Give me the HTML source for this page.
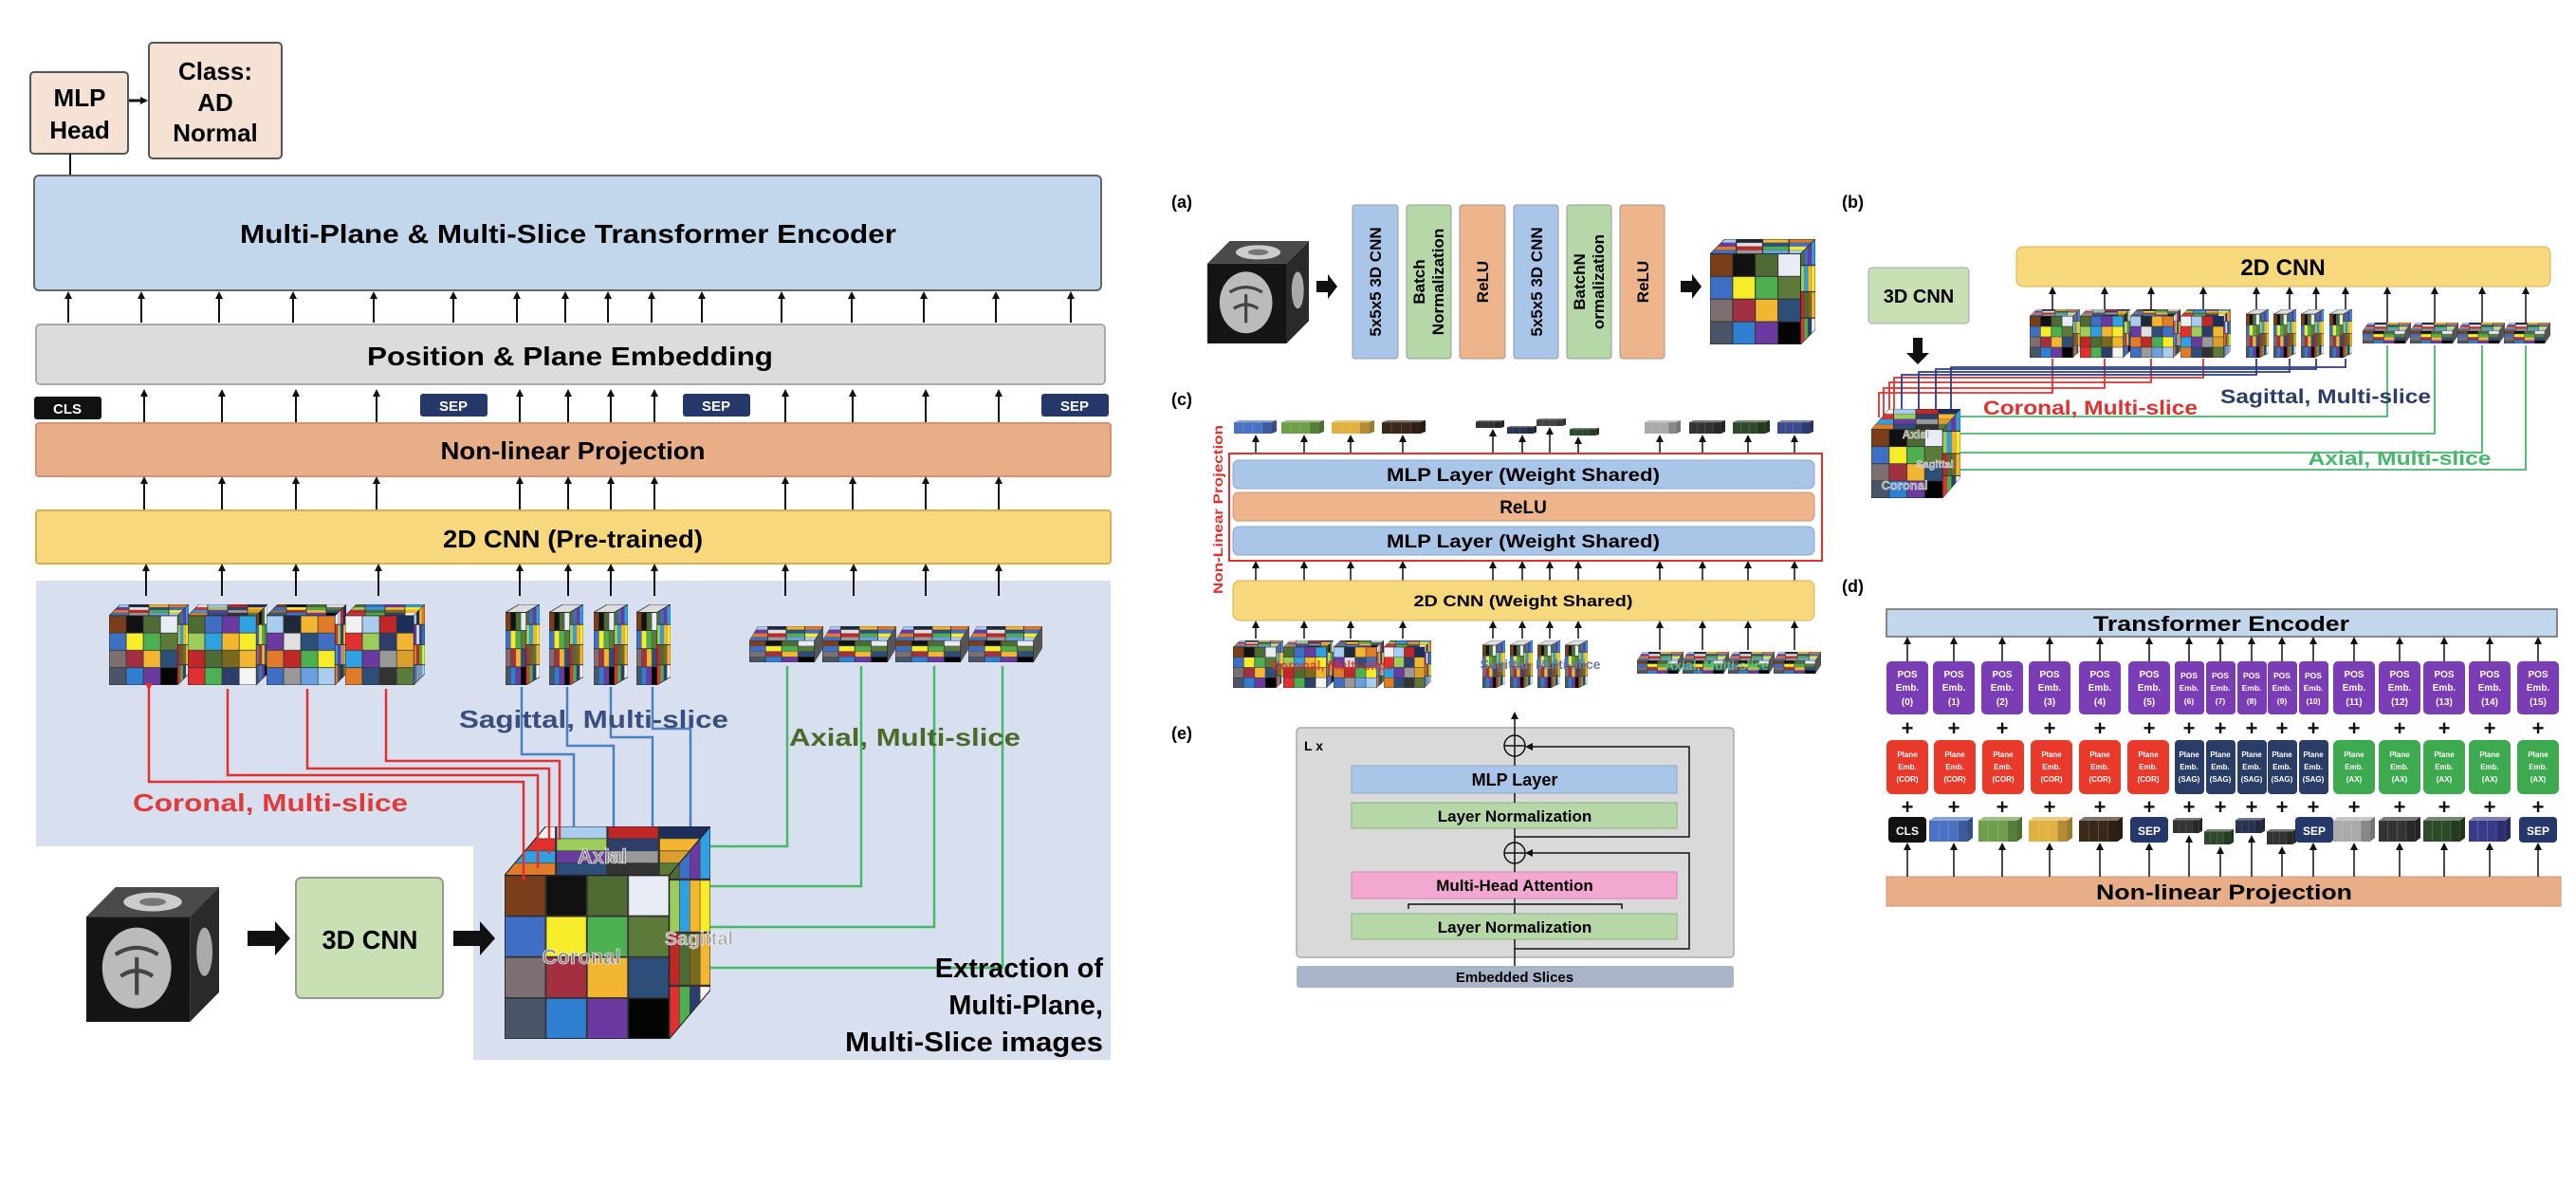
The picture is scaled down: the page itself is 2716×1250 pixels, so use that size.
<!DOCTYPE html>
<html><head><meta charset="utf-8"><style>html,body{margin:0;padding:0;background:#fff}svg{display:block}text{font-family:"Liberation Sans",Arial,sans-serif;font-weight:bold}</style></head><body>
<svg width="2716" height="1250" viewBox="0 0 2716 1250" xmlns="http://www.w3.org/2000/svg">
<defs>
<marker id="ah" markerWidth="8" markerHeight="8" refX="6" refY="4" orient="auto" markerUnits="userSpaceOnUse"><path d="M0,0 L8,4 L0,8 z" fill="#111"/></marker>
<marker id="ahg" markerWidth="8" markerHeight="8" refX="6" refY="4" orient="auto" markerUnits="userSpaceOnUse"><path d="M0,0 L8,4 L0,8 z" fill="#45b86a"/></marker>
<marker id="ahr" markerWidth="8" markerHeight="8" refX="6" refY="4" orient="auto" markerUnits="userSpaceOnUse"><path d="M0,0 L8,4 L0,8 z" fill="#e03030"/></marker>
<marker id="ahb" markerWidth="8" markerHeight="8" refX="6" refY="4" orient="auto" markerUnits="userSpaceOnUse"><path d="M0,0 L8,4 L0,8 z" fill="#2a3d80"/></marker>
<pattern id="g1" width="1" height="1" patternContentUnits="objectBoundingBox"><g stroke="#333" stroke-width=".01">
<rect x="0" y="0" width=".25" height=".25" fill="#7a3f1a"/><rect x=".25" y="0" width=".25" height=".25" fill="#111"/><rect x=".5" y="0" width=".25" height=".25" fill="#4e6b34"/><rect x=".75" y="0" width=".25" height=".25" fill="#e8ecf4"/>
<rect x="0" y=".25" width=".25" height=".25" fill="#3e6fc4"/><rect x=".25" y=".25" width=".25" height=".25" fill="#f6ec2a"/><rect x=".5" y=".25" width=".25" height=".25" fill="#4caf50"/><rect x=".75" y=".25" width=".25" height=".25" fill="#5c7a3a"/>
<rect x="0" y=".5" width=".25" height=".25" fill="#7b6f72"/><rect x=".25" y=".5" width=".25" height=".25" fill="#a33040"/><rect x=".5" y=".5" width=".25" height=".25" fill="#f2b630"/><rect x=".75" y=".5" width=".25" height=".25" fill="#2e4e7a"/>
<rect x="0" y=".75" width=".25" height=".25" fill="#4a5568"/><rect x=".25" y=".75" width=".25" height=".25" fill="#2f7fd0"/><rect x=".5" y=".75" width=".25" height=".25" fill="#6a3aa0"/><rect x=".75" y=".75" width=".25" height=".25" fill="#050505"/></g></pattern>
<pattern id="g2" width="1" height="1" patternContentUnits="objectBoundingBox"><g stroke="#333" stroke-width=".01">
<rect x="0" y="0" width=".25" height=".25" fill="#4e6b34"/><rect x=".25" y="0" width=".25" height=".25" fill="#3e6fc4"/><rect x=".5" y="0" width=".25" height=".25" fill="#6a3aa0"/><rect x=".75" y="0" width=".25" height=".25" fill="#2fa0e0"/>
<rect x="0" y=".25" width=".25" height=".25" fill="#9ccc5a"/><rect x=".25" y=".25" width=".25" height=".25" fill="#2fa0e0"/><rect x=".5" y=".25" width=".25" height=".25" fill="#f2b630"/><rect x=".75" y=".25" width=".25" height=".25" fill="#f6ec2a"/>
<rect x="0" y=".5" width=".25" height=".25" fill="#c02828"/><rect x=".25" y=".5" width=".25" height=".25" fill="#4e6b34"/><rect x=".5" y=".5" width=".25" height=".25" fill="#7a6a20"/><rect x=".75" y=".5" width=".25" height=".25" fill="#f2b630"/>
<rect x="0" y=".75" width=".25" height=".25" fill="#e03030"/><rect x=".25" y=".75" width=".25" height=".25" fill="#4caf50"/><rect x=".5" y=".75" width=".25" height=".25" fill="#2e3e6a"/><rect x=".75" y=".75" width=".25" height=".25" fill="#f4f4f4"/></g></pattern>
<pattern id="g3" width="1" height="1" patternContentUnits="objectBoundingBox"><g stroke="#333" stroke-width=".01">
<rect x="0" y="0" width=".25" height=".25" fill="#a9cdee"/><rect x=".25" y="0" width=".25" height=".25" fill="#1e2a3a"/><rect x=".5" y="0" width=".25" height=".25" fill="#f2b630"/><rect x=".75" y="0" width=".25" height=".25" fill="#e07b2a"/>
<rect x="0" y=".25" width=".25" height=".25" fill="#6a3aa0"/><rect x=".25" y=".25" width=".25" height=".25" fill="#e0e0e0"/><rect x=".5" y=".25" width=".25" height=".25" fill="#2e4e7a"/><rect x=".75" y=".25" width=".25" height=".25" fill="#3e6fc4"/>
<rect x="0" y=".5" width=".25" height=".25" fill="#e07b2a"/><rect x=".25" y=".5" width=".25" height=".25" fill="#c02828"/><rect x=".5" y=".5" width=".25" height=".25" fill="#4caf50"/><rect x=".75" y=".5" width=".25" height=".25" fill="#f6ec2a"/>
<rect x="0" y=".75" width=".25" height=".25" fill="#3e6fc4"/><rect x=".25" y=".75" width=".25" height=".25" fill="#999"/><rect x=".5" y=".75" width=".25" height=".25" fill="#6aa0e0"/><rect x=".75" y=".75" width=".25" height=".25" fill="#a9cdee"/></g></pattern>
<pattern id="g4" width="1" height="1" patternContentUnits="objectBoundingBox"><g stroke="#333" stroke-width=".01">
<rect x="0" y="0" width=".25" height=".25" fill="#f0f0f0"/><rect x=".25" y="0" width=".25" height=".25" fill="#a9cdee"/><rect x=".5" y="0" width=".25" height=".25" fill="#c02828"/><rect x=".75" y="0" width=".25" height=".25" fill="#1e2e5a"/>
<rect x="0" y=".25" width=".25" height=".25" fill="#e03030"/><rect x=".25" y=".25" width=".25" height=".25" fill="#9ccc5a"/><rect x=".5" y=".25" width=".25" height=".25" fill="#2e3e6a"/><rect x=".75" y=".25" width=".25" height=".25" fill="#f2b630"/>
<rect x="0" y=".5" width=".25" height=".25" fill="#2fa0e0"/><rect x=".25" y=".5" width=".25" height=".25" fill="#6a3aa0"/><rect x=".5" y=".5" width=".25" height=".25" fill="#999"/><rect x=".75" y=".5" width=".25" height=".25" fill="#d9a030"/>
<rect x="0" y=".75" width=".25" height=".25" fill="#e07b2a"/><rect x=".25" y=".75" width=".25" height=".25" fill="#2e4e7a"/><rect x=".5" y=".75" width=".25" height=".25" fill="#333"/><rect x=".75" y=".75" width=".25" height=".25" fill="#5c7a3a"/></g></pattern>
<symbol id="cA" viewBox="0 0 100 100" preserveAspectRatio="none"><polygon points="0,14 14,0 100,0 86,14" fill="url(#g3)" stroke="#222" stroke-width=".6"/><polygon points="86,14 100,0 100,86 86,100" fill="url(#g2)" stroke="#222" stroke-width=".6"/><rect x="0" y="14" width="86" height="86" fill="url(#g1)" stroke="#222" stroke-width=".6"/></symbol>
<symbol id="cB" viewBox="0 0 100 100" preserveAspectRatio="none"><polygon points="0,14 14,0 100,0 86,14" fill="url(#g4)" stroke="#222" stroke-width=".6"/><polygon points="86,14 100,0 100,86 86,100" fill="url(#g1)" stroke="#222" stroke-width=".6"/><rect x="0" y="14" width="86" height="86" fill="url(#g2)" stroke="#222" stroke-width=".6"/></symbol>
<symbol id="cC" viewBox="0 0 100 100" preserveAspectRatio="none"><polygon points="0,14 14,0 100,0 86,14" fill="url(#g1)" stroke="#222" stroke-width=".6"/><polygon points="86,14 100,0 100,86 86,100" fill="url(#g4)" stroke="#222" stroke-width=".6"/><rect x="0" y="14" width="86" height="86" fill="url(#g3)" stroke="#222" stroke-width=".6"/></symbol>
<symbol id="cD" viewBox="0 0 100 100" preserveAspectRatio="none"><polygon points="0,14 14,0 100,0 86,14" fill="url(#g2)" stroke="#222" stroke-width=".6"/><polygon points="86,14 100,0 100,86 86,100" fill="url(#g3)" stroke="#222" stroke-width=".6"/><rect x="0" y="14" width="86" height="86" fill="url(#g4)" stroke="#222" stroke-width=".6"/></symbol>
<symbol id="big" viewBox="0 0 100 100" preserveAspectRatio="none"><polygon points="0,23 20,0 100,0 80,23" fill="url(#g4)" stroke="#222" stroke-width=".5"/><polygon points="80,23 100,0 100,77 80,100" fill="url(#g2)" stroke="#222" stroke-width=".5"/><rect x="0" y="23" width="80" height="77" fill="url(#g1)" stroke="#222" stroke-width=".5"/></symbol>
<symbol id="sag" viewBox="0 0 100 100" preserveAspectRatio="none"><polygon points="0,10 40,0 100,0 60,10" fill="#ddd" stroke="#222" stroke-width="1"/><polygon points="60,10 100,0 100,90 60,100" fill="url(#g2)" stroke="#222" stroke-width="1"/><rect x="0" y="10" width="60" height="90" fill="url(#g1)" stroke="#222" stroke-width="1"/></symbol>
<symbol id="ax" viewBox="0 0 100 100" preserveAspectRatio="none"><polygon points="0,40 12,0 100,0 88,40" fill="url(#g3)" stroke="#222" stroke-width=".6"/><polygon points="88,40 100,0 100,60 88,100" fill="#555" stroke="#222" stroke-width=".6"/><rect x="0" y="40" width="88" height="60" fill="url(#g1)" stroke="#222" stroke-width=".6"/></symbol>
<symbol id="slab" viewBox="0 0 100 100" preserveAspectRatio="none"><rect x="0" y="15" width="88" height="85" fill="currentColor"/><polygon points="0,15 12,0 100,0 88,15" fill="currentColor"/><polygon points="0,15 12,0 100,0 88,15" fill="#fff" opacity=".35"/><polygon points="88,15 100,0 100,85 88,100" fill="currentColor"/><polygon points="88,15 100,0 100,85 88,100" fill="#000" opacity=".3"/><g stroke="#fff" stroke-width="1" opacity=".5"><line x1="22" y1="15" x2="22" y2="100"/><line x1="44" y1="15" x2="44" y2="100"/><line x1="66" y1="15" x2="66" y2="100"/></g><rect x="66" y="15" width="22" height="85" fill="#000" opacity=".2"/></symbol>
<symbol id="brain" viewBox="0 0 100 100" preserveAspectRatio="none"><polygon points="0,22 22,0 100,0 78,22" fill="#4a4a4a"/><ellipse cx="50" cy="11" rx="22" ry="7" fill="#ccc"/><ellipse cx="50" cy="11" rx="10" ry="3" fill="#777"/><rect x="0" y="22" width="78" height="78" fill="#151515"/><ellipse cx="38" cy="60" rx="26" ry="30" fill="#bbb"/><path d="M22,50 Q38,40 54,50 M26,66 Q38,58 50,66 M38,52 L38,80" stroke="#444" stroke-width="3" fill="none"/><polygon points="78,22 100,0 100,78 78,100" fill="#2a2a2a"/><ellipse cx="89" cy="48" rx="6" ry="18" fill="#aaa"/></symbol>
</defs>

<!-- LEFT PANEL -->
<polygon points="38,612 1171,612 1171,1117 499,1117 499,892 38,892" fill="#d8e0ef"/>
<rect x="32" y="76" width="103" height="86" rx="4" fill="#f6e2d5" stroke="#555" stroke-width="2"/>
<text x="84" y="112" font-size="26" text-anchor="middle">MLP</text><text x="84" y="146" font-size="26" text-anchor="middle">Head</text>
<rect x="157" y="45" width="140" height="122" rx="4" fill="#f6e2d5" stroke="#555" stroke-width="2"/>
<text x="227" y="84" font-size="26" text-anchor="middle">Class:</text><text x="227" y="117" font-size="26" text-anchor="middle">AD</text><text x="227" y="149" font-size="26" text-anchor="middle">Normal</text>
<line x1="136" y1="106" x2="154" y2="106" stroke="#111" stroke-width="3" marker-end="url(#ah)"/>
<line x1="74" y1="162" x2="74" y2="185" stroke="#111" stroke-width="2"/>
<rect x="36" y="185" width="1125" height="121" rx="5" fill="#c2d6ec" stroke="#666" stroke-width="2"/>
<text x="599" y="256" font-size="28" text-anchor="middle" textLength="692" lengthAdjust="spacingAndGlyphs">Multi-Plane &amp; Multi-Slice Transformer Encoder</text>
<g stroke="#111" stroke-width="2" marker-end="url(#ah)">
<line x1="72" y1="340" x2="72" y2="309"/><line x1="149" y1="340" x2="149" y2="309"/><line x1="231" y1="340" x2="231" y2="309"/><line x1="309" y1="340" x2="309" y2="309"/><line x1="394" y1="340" x2="394" y2="309"/><line x1="478" y1="340" x2="478" y2="309"/><line x1="545" y1="340" x2="545" y2="309"/><line x1="596" y1="340" x2="596" y2="309"/><line x1="641" y1="340" x2="641" y2="309"/><line x1="687" y1="340" x2="687" y2="309"/><line x1="740" y1="340" x2="740" y2="309"/><line x1="824" y1="340" x2="824" y2="309"/><line x1="898" y1="340" x2="898" y2="309"/><line x1="974" y1="340" x2="974" y2="309"/><line x1="1050" y1="340" x2="1050" y2="309"/><line x1="1129" y1="340" x2="1129" y2="309"/>
</g>
<rect x="38" y="342" width="1127" height="63" rx="4" fill="#dcdcdc" stroke="#aaa" stroke-width="2"/>
<text x="601" y="385" font-size="28" text-anchor="middle" textLength="428" lengthAdjust="spacingAndGlyphs">Position &amp; Plane Embedding</text>
<g stroke="#111" stroke-width="2" marker-end="url(#ah)">
<line x1="152" y1="446" x2="152" y2="412"/><line x1="234" y1="446" x2="234" y2="412"/><line x1="312" y1="446" x2="312" y2="412"/><line x1="397" y1="446" x2="397" y2="412"/><line x1="548" y1="446" x2="548" y2="412"/><line x1="599" y1="446" x2="599" y2="412"/><line x1="644" y1="446" x2="644" y2="412"/><line x1="690" y1="446" x2="690" y2="412"/><line x1="828" y1="446" x2="828" y2="412"/><line x1="899" y1="446" x2="899" y2="412"/><line x1="976" y1="446" x2="976" y2="412"/><line x1="1053" y1="446" x2="1053" y2="412"/>
</g>
<rect x="36" y="418" width="71" height="24" rx="3" fill="#111"/><text x="71" y="436" font-size="15" fill="#fff" text-anchor="middle">CLS</text>
<rect x="443" y="415" width="71" height="24" rx="3" fill="#26386a"/><text x="478" y="433" font-size="15" fill="#fff" text-anchor="middle">SEP</text>
<rect x="720" y="415" width="71" height="24" rx="3" fill="#26386a"/><text x="755" y="433" font-size="15" fill="#fff" text-anchor="middle">SEP</text>
<rect x="1098" y="415" width="71" height="24" rx="3" fill="#26386a"/><text x="1133" y="433" font-size="15" fill="#fff" text-anchor="middle">SEP</text>
<rect x="38" y="446" width="1133" height="56" rx="3" fill="#e8ae88" stroke="#d89070" stroke-width="2"/>
<text x="604" y="484" font-size="26" text-anchor="middle" textLength="279" lengthAdjust="spacingAndGlyphs">Non-linear Projection</text>
<g stroke="#111" stroke-width="2" marker-end="url(#ah)">
<line x1="152" y1="538" x2="152" y2="504"/><line x1="234" y1="538" x2="234" y2="504"/><line x1="312" y1="538" x2="312" y2="504"/><line x1="397" y1="538" x2="397" y2="504"/><line x1="548" y1="538" x2="548" y2="504"/><line x1="599" y1="538" x2="599" y2="504"/><line x1="644" y1="538" x2="644" y2="504"/><line x1="690" y1="538" x2="690" y2="504"/><line x1="828" y1="538" x2="828" y2="504"/><line x1="899" y1="538" x2="899" y2="504"/><line x1="976" y1="538" x2="976" y2="504"/><line x1="1053" y1="538" x2="1053" y2="504"/>
</g>
<rect x="38" y="538" width="1133" height="56" rx="3" fill="#f7d87c" stroke="#d8b050" stroke-width="2"/>
<text x="604" y="577" font-size="26" text-anchor="middle" textLength="274" lengthAdjust="spacingAndGlyphs">2D CNN (Pre-trained)</text>
<g stroke="#111" stroke-width="2" marker-end="url(#ah)">
<line x1="154" y1="628" x2="154" y2="596"/><line x1="234" y1="628" x2="234" y2="596"/><line x1="312" y1="628" x2="312" y2="596"/><line x1="399" y1="628" x2="399" y2="596"/><line x1="548" y1="628" x2="548" y2="596"/><line x1="599" y1="628" x2="599" y2="596"/><line x1="644" y1="628" x2="644" y2="596"/><line x1="690" y1="628" x2="690" y2="596"/><line x1="828" y1="628" x2="828" y2="596"/><line x1="900" y1="628" x2="900" y2="596"/><line x1="976" y1="628" x2="976" y2="596"/><line x1="1053" y1="628" x2="1053" y2="596"/>
</g>
<use href="#cA" x="115" y="637" width="84" height="85"/><use href="#cB" x="198" y="637" width="84" height="85"/><use href="#cC" x="281" y="637" width="84" height="85"/><use href="#cD" x="364" y="637" width="84" height="85"/>
<use href="#sag" x="533" y="637" width="36" height="85"/><use href="#sag" x="579" y="637" width="36" height="85"/><use href="#sag" x="626" y="637" width="36" height="85"/><use href="#sag" x="671" y="637" width="36" height="85"/>
<use href="#ax" x="790" y="660" width="78" height="38"/><use href="#ax" x="867" y="660" width="78" height="38"/><use href="#ax" x="944" y="660" width="78" height="38"/><use href="#ax" x="1021" y="660" width="78" height="38"/>
<use href="#big" x="532" y="871" width="217" height="224"/>
<g fill="none" stroke="#e03030" stroke-width="2.5">
<path d="M157,726 V824 H552 V928" marker-start="url(#ahr)"/><path d="M240,726 V817 H567 V915"/><path d="M324,726 V810 H579 V900"/><path d="M407,726 V802 H590 V885"/>
</g>
<g fill="none" stroke="#4a80c0" stroke-width="2.5">
<path d="M550,724 V795 H605 V871"/><path d="M598,724 V786 H647 V871"/><path d="M644,724 V777 H688 V871"/><path d="M688,724 V768 H728 V871"/>
</g>
<g fill="none" stroke="#45b86a" stroke-width="2.5">
<path d="M749,892 H830 V702"/><path d="M749,934 H908 V702"/><path d="M749,977 H985 V702"/><path d="M749,1020 H1057 V702"/>
</g>
<text x="635" y="910" font-size="22" fill="#888" stroke="#fff" stroke-width=".6" text-anchor="middle">Axial</text>
<text x="613" y="1016" font-size="22" fill="#888" stroke="#fff" stroke-width=".6" text-anchor="middle">Coronal</text>
<text x="737" y="996" font-size="20" fill="#aaa" stroke="#fff" stroke-width=".5" text-anchor="middle">Sagittal</text>
<text x="626" y="767" font-size="26" fill="#3a4e7c" text-anchor="middle" textLength="284" lengthAdjust="spacingAndGlyphs">Sagittal, Multi-slice</text>
<text x="954" y="786" font-size="26" fill="#4a6a2a" text-anchor="middle" textLength="244" lengthAdjust="spacingAndGlyphs">Axial, Multi-slice</text>
<text x="285" y="855" font-size="26" fill="#e03a3a" text-anchor="middle" textLength="290" lengthAdjust="spacingAndGlyphs">Coronal, Multi-slice</text>
<use href="#brain" x="91" y="935" width="140" height="142"/>
<polygon points="261,981 290,981 290,971 306,989 290,1007 290,997 261,997" fill="#111"/>
<rect x="312" y="925" width="155" height="127" rx="6" fill="#c9dfb4" stroke="#999" stroke-width="2"/>
<text x="390" y="1000" font-size="28" text-anchor="middle" textLength="101" lengthAdjust="spacingAndGlyphs">3D CNN</text>
<polygon points="478,981 506,981 506,971 522,989 506,1007 506,997 478,997" fill="#111"/>
<text x="1163" y="1030" font-size="29" text-anchor="end">Extraction of</text>
<text x="1163" y="1069" font-size="29" text-anchor="end">Multi-Plane,</text>
<text x="1163" y="1108" font-size="29" text-anchor="end" textLength="272" lengthAdjust="spacingAndGlyphs">Multi-Slice images</text>

<!-- (a) -->
<text x="1235" y="219" font-size="18">(a)</text>
<use href="#brain" x="1273" y="254" width="107" height="108"/>
<polygon points="1388,296 1400,296 1400,289 1410,302 1400,315 1400,308 1388,308" fill="#111"/>
<g stroke="#999" stroke-width="1">
<rect x="1426" y="216" width="48" height="162" rx="3" fill="#a9c6e8"/><rect x="1483" y="216" width="47" height="162" rx="3" fill="#b6d7a8"/><rect x="1539" y="216" width="48" height="162" rx="3" fill="#eeb48c"/>
<rect x="1596" y="216" width="47" height="162" rx="3" fill="#a9c6e8"/><rect x="1652" y="216" width="47" height="162" rx="3" fill="#b6d7a8"/><rect x="1708" y="216" width="47" height="162" rx="3" fill="#eeb48c"/></g>
<g font-size="17">
<text transform="translate(1456,297) rotate(-90)" text-anchor="middle">5x5x5 3D CNN</text>
<text transform="translate(1502,297) rotate(-90)" text-anchor="middle">Batch</text><text transform="translate(1522,297) rotate(-90)" text-anchor="middle">Normalization</text>
<text transform="translate(1569,297) rotate(-90)" text-anchor="middle">ReLU</text>
<text transform="translate(1626,297) rotate(-90)" text-anchor="middle">5x5x5 3D CNN</text>
<text transform="translate(1671,297) rotate(-90)" text-anchor="middle">BatchN</text><text transform="translate(1691,297) rotate(-90)" text-anchor="middle">ormalization</text>
<text transform="translate(1738,297) rotate(-90)" text-anchor="middle">ReLU</text></g>
<polygon points="1772,296 1784,296 1784,289 1794,302 1784,315 1784,308 1772,308" fill="#111"/>
<use href="#cA" x="1803" y="252" width="111" height="111"/>

<!-- (c) -->
<text x="1235" y="427" font-size="18">(c)</text>
<use href="#slab" x="1301" y="443" width="45" height="14" style="color:#4a72c4"/><use href="#slab" x="1351" y="443" width="45" height="14" style="color:#6f9e4a"/><use href="#slab" x="1404" y="443" width="45" height="14" style="color:#e0b040"/><use href="#slab" x="1457" y="443" width="46" height="14" style="color:#3a2818"/>
<use href="#slab" x="1556" y="443" width="30" height="8" style="color:#333"/><use href="#slab" x="1589" y="449" width="31" height="8" style="color:#2a3350"/><use href="#slab" x="1620" y="441" width="31" height="8" style="color:#444"/><use href="#slab" x="1655" y="451" width="31" height="8" style="color:#2e4a2e"/>
<use href="#slab" x="1734" y="443" width="38" height="14" style="color:#aaa"/><use href="#slab" x="1781" y="443" width="38" height="14" style="color:#333"/><use href="#slab" x="1827" y="443" width="39" height="14" style="color:#2e4a2a"/><use href="#slab" x="1874" y="443" width="38" height="14" style="color:#3a4a8a"/>
<g stroke="#111" stroke-width="1.5" marker-end="url(#ah)">
<line x1="1324" y1="478" x2="1324" y2="460"/><line x1="1375" y1="478" x2="1375" y2="460"/><line x1="1424" y1="478" x2="1424" y2="460"/><line x1="1479" y1="478" x2="1479" y2="460"/><line x1="1574" y1="478" x2="1574" y2="454"/><line x1="1605" y1="478" x2="1605" y2="460"/><line x1="1634" y1="478" x2="1634" y2="452"/><line x1="1664" y1="478" x2="1664" y2="462"/><line x1="1750" y1="478" x2="1750" y2="460"/><line x1="1795" y1="478" x2="1795" y2="460"/><line x1="1843" y1="478" x2="1843" y2="460"/><line x1="1892" y1="478" x2="1892" y2="460"/>
<line x1="1324" y1="612" x2="1324" y2="593"/><line x1="1375" y1="612" x2="1375" y2="593"/><line x1="1424" y1="612" x2="1424" y2="593"/><line x1="1479" y1="612" x2="1479" y2="593"/><line x1="1574" y1="612" x2="1574" y2="593"/><line x1="1605" y1="612" x2="1605" y2="593"/><line x1="1634" y1="612" x2="1634" y2="593"/><line x1="1664" y1="612" x2="1664" y2="593"/><line x1="1750" y1="612" x2="1750" y2="593"/><line x1="1795" y1="612" x2="1795" y2="593"/><line x1="1843" y1="612" x2="1843" y2="593"/><line x1="1892" y1="612" x2="1892" y2="593"/>
<line x1="1324" y1="673" x2="1324" y2="656"/><line x1="1375" y1="673" x2="1375" y2="656"/><line x1="1424" y1="673" x2="1424" y2="656"/><line x1="1479" y1="673" x2="1479" y2="656"/><line x1="1574" y1="673" x2="1574" y2="656"/><line x1="1605" y1="673" x2="1605" y2="656"/><line x1="1634" y1="673" x2="1634" y2="656"/><line x1="1664" y1="673" x2="1664" y2="656"/><line x1="1750" y1="685" x2="1750" y2="656"/><line x1="1795" y1="685" x2="1795" y2="656"/><line x1="1843" y1="685" x2="1843" y2="656"/><line x1="1892" y1="685" x2="1892" y2="656"/>
</g>
<rect x="1296" y="478" width="625" height="113" fill="none" stroke="#e03030" stroke-width="2"/>
<rect x="1300" y="485" width="613" height="30" rx="6" fill="#a9c6e8" stroke="#8aa8cc"/>
<rect x="1300" y="519" width="613" height="30" rx="6" fill="#eeb48c" stroke="#d09070"/>
<rect x="1300" y="555" width="613" height="30" rx="6" fill="#a9c6e8" stroke="#8aa8cc"/>
<text x="1606" y="507" font-size="19" text-anchor="middle" textLength="288" lengthAdjust="spacingAndGlyphs">MLP Layer (Weight Shared)</text>
<text x="1606" y="541" font-size="19" text-anchor="middle">ReLU</text>
<text x="1606" y="577" font-size="19" text-anchor="middle" textLength="288" lengthAdjust="spacingAndGlyphs">MLP Layer (Weight Shared)</text>
<text transform="translate(1289,537) rotate(-90)" font-size="14" fill="#e03030" text-anchor="middle" textLength="178" lengthAdjust="spacingAndGlyphs">Non-Linear Projection</text>
<rect x="1300" y="612" width="613" height="42" rx="7" fill="#f7d87c" stroke="#d8b050"/>
<text x="1606" y="639" font-size="17" text-anchor="middle" textLength="231" lengthAdjust="spacingAndGlyphs">2D CNN (Weight Shared)</text>
<use href="#cA" x="1300" y="675" width="53" height="50"/><use href="#cB" x="1353" y="675" width="53" height="50"/><use href="#cC" x="1406" y="675" width="53" height="50"/><use href="#cD" x="1459" y="675" width="50" height="50"/>
<use href="#sag" x="1563" y="675" width="24" height="50"/><use href="#sag" x="1592" y="675" width="24" height="50"/><use href="#sag" x="1621" y="675" width="24" height="50"/><use href="#sag" x="1650" y="675" width="24" height="50"/>
<use href="#ax" x="1726" y="687" width="49" height="23"/><use href="#ax" x="1774" y="687" width="49" height="23"/><use href="#ax" x="1822" y="687" width="49" height="23"/><use href="#ax" x="1870" y="687" width="50" height="23"/>
<text x="1404" y="706" font-size="14" fill="#e03030" text-anchor="middle" opacity=".85">Coronal, Multi-slice</text>
<text x="1624" y="705" font-size="14" fill="#6a78a8" text-anchor="middle">Sagittal, Multi-slice</text>
<text x="1810" y="706" font-size="14" fill="#5ad08a" text-anchor="middle" opacity=".85">Axial, Multi-slice</text>

<!-- (e) -->
<text x="1235" y="779" font-size="18">(e)</text>
<rect x="1367" y="767" width="461" height="242" rx="4" fill="#d9d9d9" stroke="#aaa" stroke-width="1.5"/>
<text x="1375" y="791" font-size="14">L x</text>
<rect x="1425" y="807" width="343" height="29" fill="#a9c6e8" stroke="#8aa8cc"/><text x="1597" y="828" font-size="18" text-anchor="middle">MLP Layer</text>
<rect x="1425" y="846" width="343" height="27" fill="#b6d7a8" stroke="#90b080"/><text x="1597" y="866" font-size="17" text-anchor="middle">Layer Normalization</text>
<rect x="1425" y="919" width="343" height="28" fill="#f2a8d0" stroke="#d088b0"/><text x="1597" y="939" font-size="17" text-anchor="middle">Multi-Head Attention</text>
<rect x="1425" y="963" width="343" height="27" fill="#b6d7a8" stroke="#90b080"/><text x="1597" y="983" font-size="17" text-anchor="middle">Layer Normalization</text>
<rect x="1367" y="1018" width="461" height="23" rx="3" fill="#aab4c8"/><text x="1597" y="1035" font-size="15" text-anchor="middle">Embedded Slices</text>
<g fill="none" stroke="#111" stroke-width="1.5">
<line x1="1597" y1="1018" x2="1597" y2="990"/><line x1="1597" y1="963" x2="1597" y2="947"/><line x1="1597" y1="919" x2="1597" y2="910"/><line x1="1597" y1="888" x2="1597" y2="873"/><line x1="1597" y1="846" x2="1597" y2="836"/><line x1="1597" y1="807" x2="1597" y2="797"/>
<line x1="1597" y1="775" x2="1597" y2="752" marker-end="url(#ah)"/>
<path d="M1485,958 V953 H1710 V958"/>
<circle cx="1597" cy="899" r="11"/><line x1="1586" y1="899" x2="1608" y2="899"/><line x1="1597" y1="888" x2="1597" y2="910"/>
<circle cx="1597" cy="786" r="11"/><line x1="1586" y1="786" x2="1608" y2="786"/><line x1="1597" y1="775" x2="1597" y2="797"/>
<path d="M1597,1000 H1781 V899 H1610" marker-end="url(#ah)"/><path d="M1597,882 H1781 V787 H1610" marker-end="url(#ah)"/>
</g>

<!-- (b) -->
<text x="1942" y="219" font-size="18">(b)</text>
<rect x="2126" y="260" width="563" height="42" rx="7" fill="#f7d87c" stroke="#d8b050"/>
<text x="2407" y="290" font-size="24" text-anchor="middle">2D CNN</text>
<rect x="1970" y="282" width="106" height="59" rx="4" fill="#c9dfb4" stroke="#9ab"/>
<text x="2023" y="319" font-size="20" text-anchor="middle">3D CNN</text>
<polygon points="2017,356 2027,356 2027,372 2034,372 2022,384 2010,372 2017,372" fill="#111"/>
<g stroke="#111" stroke-width="1.5" marker-end="url(#ah)">
<line x1="2164" y1="326" x2="2164" y2="304"/><line x1="2219" y1="326" x2="2219" y2="304"/><line x1="2268" y1="326" x2="2268" y2="304"/><line x1="2323" y1="326" x2="2323" y2="304"/>
<line x1="2379" y1="326" x2="2379" y2="304"/><line x1="2414" y1="326" x2="2414" y2="304"/><line x1="2442" y1="326" x2="2442" y2="304"/><line x1="2473" y1="326" x2="2473" y2="304"/>
<line x1="2517" y1="340" x2="2517" y2="304"/><line x1="2567" y1="340" x2="2567" y2="304"/><line x1="2617" y1="340" x2="2617" y2="304"/><line x1="2663" y1="340" x2="2663" y2="304"/>
</g>
<use href="#cA" x="2140" y="326" width="53" height="51"/><use href="#cB" x="2193" y="326" width="53" height="51"/><use href="#cC" x="2246" y="326" width="53" height="51"/><use href="#cD" x="2299" y="326" width="53" height="51"/>
<use href="#sag" x="2368" y="326" width="24" height="51"/><use href="#sag" x="2397" y="326" width="24" height="51"/><use href="#sag" x="2426" y="326" width="24" height="51"/><use href="#sag" x="2456" y="326" width="24" height="51"/>
<use href="#ax" x="2491" y="340" width="51" height="22"/><use href="#ax" x="2541" y="340" width="51" height="22"/><use href="#ax" x="2591" y="340" width="50" height="22"/><use href="#ax" x="2640" y="340" width="49" height="22"/>
<g fill="none" stroke="#e03030" stroke-width="1.8">
<path d="M1981,440 V414 H2164 V378"/><path d="M1986,440 V409 H2219 V378"/><path d="M1992,440 V403 H2268 V378"/><path d="M1997,440 V398 H2323 V378"/>
</g>
<g fill="none" stroke="#2a3d80" stroke-width="1.8">
<path d="M2005,440 V395 H2379 V378"/><path d="M2023,440 V392 H2414 V378"/><path d="M2041,440 V389 H2442 V378"/><path d="M2057,440 V387 H2473 V378"/>
</g>
<g fill="none" stroke="#45b86a" stroke-width="1.8">
<path d="M2067,439 H2517 V364"/><path d="M2067,457 H2567 V364"/><path d="M2067,477 H2617 V364"/><path d="M2067,495 H2663 V364"/>
</g>
<use href="#big" x="1973" y="431" width="94" height="94"/>
<text x="2020" y="462" font-size="12" fill="#999" stroke="#fff" stroke-width=".4" text-anchor="middle">Axial</text>
<text x="2040" y="493" font-size="11" fill="#999" stroke="#fff" stroke-width=".4" text-anchor="middle">Sagittal</text>
<text x="2008" y="516" font-size="13" fill="#999" stroke="#fff" stroke-width=".4" text-anchor="middle">Coronal</text>
<text x="2204" y="437" font-size="21" fill="#e03030" text-anchor="middle" textLength="226" lengthAdjust="spacingAndGlyphs">Coronal, Multi-slice</text>
<text x="2452" y="425" font-size="21" fill="#2a3d6a" text-anchor="middle" textLength="222" lengthAdjust="spacingAndGlyphs">Sagittal, Multi-slice</text>
<text x="2530" y="490" font-size="20" fill="#45b86a" text-anchor="middle" textLength="193" lengthAdjust="spacingAndGlyphs">Axial, Multi-slice</text>

<!-- (d) -->
<text x="1942" y="624" font-size="18">(d)</text>
<rect x="1989" y="642" width="707" height="29" fill="#c2d6ec" stroke="#666" stroke-width="1.5"/>
<text x="2342" y="665" font-size="22" text-anchor="middle" textLength="270" lengthAdjust="spacingAndGlyphs">Transformer Encoder</text>
<rect x="1989" y="924" width="711" height="31" fill="#e8ae88" stroke="#d89070"/>
<text x="2345" y="948" font-size="22" text-anchor="middle" textLength="270" lengthAdjust="spacingAndGlyphs">Non-linear Projection</text>
<g stroke="#111" stroke-width="1.5" marker-end="url(#ah)">
<line x1="2011" y1="697" x2="2011" y2="673"/><line x1="2060" y1="697" x2="2060" y2="673"/><line x1="2111" y1="697" x2="2111" y2="673"/><line x1="2161" y1="697" x2="2161" y2="673"/><line x1="2214" y1="697" x2="2214" y2="673"/><line x1="2266" y1="697" x2="2266" y2="673"/><line x1="2308" y1="697" x2="2308" y2="673"/><line x1="2341" y1="697" x2="2341" y2="673"/><line x1="2374" y1="697" x2="2374" y2="673"/><line x1="2406" y1="697" x2="2406" y2="673"/><line x1="2439" y1="697" x2="2439" y2="673"/><line x1="2482" y1="697" x2="2482" y2="673"/><line x1="2530" y1="697" x2="2530" y2="673"/><line x1="2577" y1="697" x2="2577" y2="673"/><line x1="2625" y1="697" x2="2625" y2="673"/><line x1="2676" y1="697" x2="2676" y2="673"/>
<line x1="2011" y1="924" x2="2011" y2="890"/><line x1="2060" y1="924" x2="2060" y2="890"/><line x1="2111" y1="924" x2="2111" y2="890"/><line x1="2161" y1="924" x2="2161" y2="890"/><line x1="2214" y1="924" x2="2214" y2="890"/><line x1="2266" y1="924" x2="2266" y2="890"/><line x1="2308" y1="924" x2="2308" y2="882"/><line x1="2341" y1="924" x2="2341" y2="894"/><line x1="2374" y1="924" x2="2374" y2="882"/><line x1="2406" y1="924" x2="2406" y2="894"/><line x1="2439" y1="924" x2="2439" y2="890"/><line x1="2482" y1="924" x2="2482" y2="890"/><line x1="2530" y1="924" x2="2530" y2="890"/><line x1="2577" y1="924" x2="2577" y2="890"/><line x1="2625" y1="924" x2="2625" y2="890"/><line x1="2676" y1="924" x2="2676" y2="890"/>
</g>
<g fill="#7b3db5">
<rect x="1989" y="697" width="44" height="56" rx="5"/><rect x="2038" y="697" width="44" height="56" rx="5"/><rect x="2089" y="697" width="44" height="56" rx="5"/><rect x="2139" y="697" width="44" height="56" rx="5"/><rect x="2192" y="697" width="44" height="56" rx="5"/><rect x="2244" y="697" width="44" height="56" rx="5"/>
<rect x="2293" y="697" width="31" height="56" rx="4"/><rect x="2326" y="697" width="31" height="56" rx="4"/><rect x="2359" y="697" width="31" height="56" rx="4"/><rect x="2391" y="697" width="31" height="56" rx="4"/><rect x="2424" y="697" width="31" height="56" rx="4"/>
<rect x="2460" y="697" width="44" height="56" rx="5"/><rect x="2508" y="697" width="44" height="56" rx="5"/><rect x="2555" y="697" width="44" height="56" rx="5"/><rect x="2603" y="697" width="44" height="56" rx="5"/><rect x="2654" y="697" width="44" height="56" rx="5"/>
</g>
<g fill="#e8392b"><rect x="1989" y="780" width="44" height="57" rx="6"/><rect x="2039" y="780" width="44" height="57" rx="6"/><rect x="2090" y="780" width="44" height="57" rx="6"/><rect x="2141" y="780" width="44" height="57" rx="6"/><rect x="2192" y="780" width="44" height="57" rx="6"/><rect x="2243" y="780" width="44" height="57" rx="6"/></g>
<g fill="#2a3d66"><rect x="2293" y="780" width="31" height="57" rx="4"/><rect x="2326" y="780" width="31" height="57" rx="4"/><rect x="2359" y="780" width="31" height="57" rx="4"/><rect x="2391" y="780" width="31" height="57" rx="4"/><rect x="2424" y="780" width="31" height="57" rx="4"/></g>
<g fill="#3eaa4f"><rect x="2460" y="780" width="44" height="57" rx="6"/><rect x="2508" y="780" width="44" height="57" rx="6"/><rect x="2555" y="780" width="44" height="57" rx="6"/><rect x="2603" y="780" width="44" height="57" rx="6"/><rect x="2654" y="780" width="44" height="57" rx="6"/></g>
<g fill="#fff" font-size="10" text-anchor="middle">
<text x="2011" y="714">POS</text><text x="2011" y="728">Emb.</text><text x="2011" y="743">(0)</text>
<text x="2060" y="714">POS</text><text x="2060" y="728">Emb.</text><text x="2060" y="743">(1)</text>
<text x="2111" y="714">POS</text><text x="2111" y="728">Emb.</text><text x="2111" y="743">(2)</text>
<text x="2161" y="714">POS</text><text x="2161" y="728">Emb.</text><text x="2161" y="743">(3)</text>
<text x="2214" y="714">POS</text><text x="2214" y="728">Emb.</text><text x="2214" y="743">(4)</text>
<text x="2266" y="714">POS</text><text x="2266" y="728">Emb.</text><text x="2266" y="743">(5)</text>
<text x="2482" y="714">POS</text><text x="2482" y="728">Emb.</text><text x="2482" y="743">(11)</text>
<text x="2530" y="714">POS</text><text x="2530" y="728">Emb.</text><text x="2530" y="743">(12)</text>
<text x="2577" y="714">POS</text><text x="2577" y="728">Emb.</text><text x="2577" y="743">(13)</text>
<text x="2625" y="714">POS</text><text x="2625" y="728">Emb.</text><text x="2625" y="743">(14)</text>
<text x="2676" y="714">POS</text><text x="2676" y="728">Emb.</text><text x="2676" y="743">(15)</text>
</g>
<g fill="#fff" font-size="8.5" text-anchor="middle">
<text x="2308" y="715">POS</text><text x="2308" y="728">Emb.</text><text x="2308" y="742">(6)</text>
<text x="2341" y="715">POS</text><text x="2341" y="728">Emb.</text><text x="2341" y="742">(7)</text>
<text x="2374" y="715">POS</text><text x="2374" y="728">Emb.</text><text x="2374" y="742">(8)</text>
<text x="2406" y="715">POS</text><text x="2406" y="728">Emb.</text><text x="2406" y="742">(9)</text>
<text x="2439" y="715">POS</text><text x="2439" y="728">Emb.</text><text x="2439" y="742">(10)</text>
</g>
<g fill="#fff" font-size="8" text-anchor="middle" font-weight="normal" style="font-weight:normal">
<text x="2011" y="798">Plane</text><text x="2011" y="811">Emb.</text><text x="2011" y="824">(COR)</text>
<text x="2061" y="798">Plane</text><text x="2061" y="811">Emb.</text><text x="2061" y="824">(COR)</text>
<text x="2112" y="798">Plane</text><text x="2112" y="811">Emb.</text><text x="2112" y="824">(COR)</text>
<text x="2163" y="798">Plane</text><text x="2163" y="811">Emb.</text><text x="2163" y="824">(COR)</text>
<text x="2214" y="798">Plane</text><text x="2214" y="811">Emb.</text><text x="2214" y="824">(COR)</text>
<text x="2265" y="798">Plane</text><text x="2265" y="811">Emb.</text><text x="2265" y="824">(COR)</text>
<text x="2308" y="798">Plane</text><text x="2308" y="811">Emb.</text><text x="2308" y="824">(SAG)</text>
<text x="2341" y="798">Plane</text><text x="2341" y="811">Emb.</text><text x="2341" y="824">(SAG)</text>
<text x="2374" y="798">Plane</text><text x="2374" y="811">Emb.</text><text x="2374" y="824">(SAG)</text>
<text x="2406" y="798">Plane</text><text x="2406" y="811">Emb.</text><text x="2406" y="824">(SAG)</text>
<text x="2439" y="798">Plane</text><text x="2439" y="811">Emb.</text><text x="2439" y="824">(SAG)</text>
<text x="2482" y="798">Plane</text><text x="2482" y="811">Emb.</text><text x="2482" y="824">(AX)</text>
<text x="2530" y="798">Plane</text><text x="2530" y="811">Emb.</text><text x="2530" y="824">(AX)</text>
<text x="2577" y="798">Plane</text><text x="2577" y="811">Emb.</text><text x="2577" y="824">(AX)</text>
<text x="2625" y="798">Plane</text><text x="2625" y="811">Emb.</text><text x="2625" y="824">(AX)</text>
<text x="2676" y="798">Plane</text><text x="2676" y="811">Emb.</text><text x="2676" y="824">(AX)</text>
</g>
<g font-size="22" text-anchor="middle" fill="#111" style="font-weight:normal">
<text x="2011" y="775">+</text><text x="2060" y="775">+</text><text x="2111" y="775">+</text><text x="2161" y="775">+</text><text x="2214" y="775">+</text><text x="2266" y="775">+</text><text x="2308" y="775">+</text><text x="2341" y="775">+</text><text x="2374" y="775">+</text><text x="2406" y="775">+</text><text x="2439" y="775">+</text><text x="2482" y="775">+</text><text x="2530" y="775">+</text><text x="2577" y="775">+</text><text x="2625" y="775">+</text><text x="2676" y="775">+</text>
<text x="2011" y="858">+</text><text x="2060" y="858">+</text><text x="2111" y="858">+</text><text x="2161" y="858">+</text><text x="2214" y="858">+</text><text x="2266" y="858">+</text><text x="2308" y="858">+</text><text x="2341" y="858">+</text><text x="2374" y="858">+</text><text x="2406" y="858">+</text><text x="2439" y="858">+</text><text x="2482" y="858">+</text><text x="2530" y="858">+</text><text x="2577" y="858">+</text><text x="2625" y="858">+</text><text x="2676" y="858">+</text>
</g>
<rect x="1991" y="861" width="40" height="27" rx="4" fill="#111"/><text x="2011" y="880" font-size="12" fill="#fff" text-anchor="middle">CLS</text>
<use href="#slab" x="2034" y="861" width="46" height="26" style="color:#4a72c4"/><use href="#slab" x="2086" y="861" width="46" height="26" style="color:#6f9e4a"/><use href="#slab" x="2139" y="861" width="46" height="26" style="color:#e0b040"/><use href="#slab" x="2192" y="861" width="46" height="26" style="color:#3a2818"/>
<rect x="2246" y="861" width="40" height="27" rx="4" fill="#26386a"/><text x="2266" y="880" font-size="12" fill="#fff" text-anchor="middle">SEP</text>
<use href="#slab" x="2291" y="862" width="31" height="16" style="color:#333"/><use href="#slab" x="2324" y="874" width="31" height="16" style="color:#2e4a2e"/><use href="#slab" x="2357" y="862" width="31" height="16" style="color:#2a3350"/><use href="#slab" x="2390" y="874" width="31" height="16" style="color:#333"/>
<rect x="2420" y="861" width="40" height="27" rx="4" fill="#26386a"/><text x="2440" y="880" font-size="12" fill="#fff" text-anchor="middle">SEP</text>
<use href="#slab" x="2460" y="861" width="44" height="26" style="color:#aaa"/><use href="#slab" x="2508" y="861" width="44" height="26" style="color:#333"/><use href="#slab" x="2555" y="861" width="44" height="26" style="color:#2e4a2a"/><use href="#slab" x="2603" y="861" width="44" height="26" style="color:#3a3a8a"/>
<rect x="2656" y="861" width="40" height="27" rx="4" fill="#26386a"/><text x="2676" y="880" font-size="12" fill="#fff" text-anchor="middle">SEP</text>
</svg>
</body></html>
